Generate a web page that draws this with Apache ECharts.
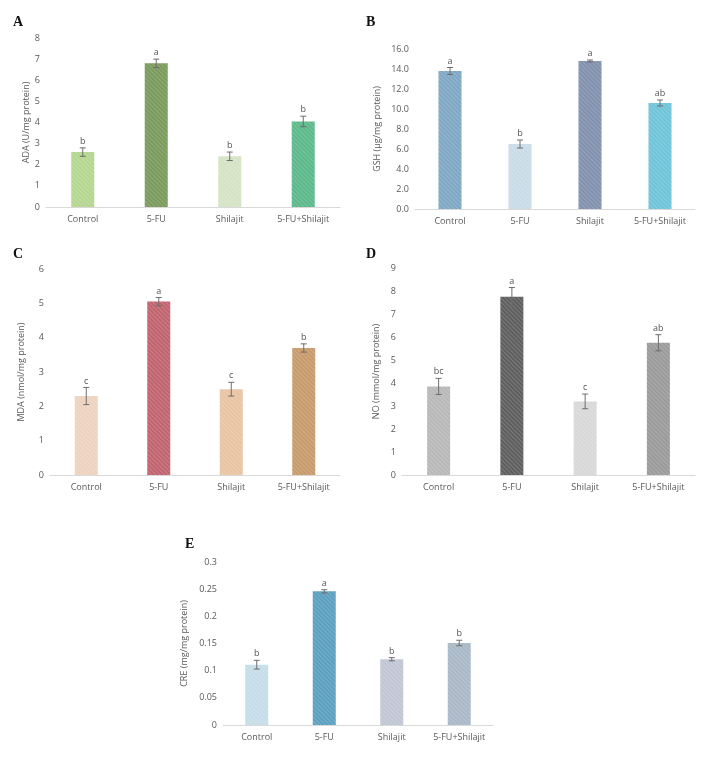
<!DOCTYPE html>
<html>
  <head>
    <meta charset="utf-8" />
    <title>ECharts</title>
    <script src="https://cdn.jsdelivr.net/npm/echarts@6.0.0/dist/echarts.min.js"></script>
    <style>
      body { margin: 0; background: #fff; }
    </style>
  </head>
  <body>
    <div id="main" style="width: 704px;height:759px;"></div>
    <script type="text/javascript">
      var categories = ['Control', '5-FU', 'Shilajit', '5-FU+Shilajit'];

      // A - ADA
      var adaValues = [2.6, 6.8, 2.4, 4.05];
      var adaErrors = [0.2, 0.2, 0.2, 0.25];
      var adaLetters = ['b', 'a', 'b', 'b'];
      var adaColors = ['#b5d68f', '#7a9a5c', '#d5e3c5', '#5bb889'];

      // B - GSH
      var gshValues = [13.8, 6.5, 14.8, 10.6];
      var gshErrors = [0.35, 0.4, 0.1, 0.3];
      var gshLetters = ['a', 'b', 'a', 'ab'];
      var gshColors = ['#7ea7c4', '#c9dbe6', '#8090ad', '#6ec4d8'];

      // C - MDA
      var mdaValues = [2.3, 5.05, 2.5, 3.7];
      var mdaErrors = [0.25, 0.12, 0.2, 0.12];
      var mdaLetters = ['c', 'a', 'c', 'b'];
      var mdaColors = ['#edd3bf', '#c0636e', '#e8c4a2', '#c79a6c'];

      // D - NO
      var noValues = [3.85, 7.75, 3.2, 5.75];
      var noErrors = [0.35, 0.4, 0.32, 0.35];
      var noLetters = ['bc', 'a', 'c', 'ab'];
      var noColors = ['#b8b8b8', '#5e5e5e', '#d8d8d8', '#9a9a9a'];

      // E - CRE
      var creValues = [0.111, 0.246, 0.121, 0.151];
      var creErrors = [0.008, 0.003, 0.003, 0.005];
      var creLetters = ['b', 'a', 'b', 'b'];
      var creColors = ['#c5dde9', '#5b9fc0', '#c0c6d4', '#a9b8c6'];

      var panelLetters = ['A', 'B', 'C', 'D', 'E'];

      var chartDom = document.getElementById('main');
      var myChart = echarts.init(chartDom);
      var font = 'Open Sans';

      var panels = [
        { name: 'ADA (U/mg protein)', v: adaValues, e: adaErrors, l: adaLetters, c: adaColors,
          grid: { left: 46, right: 364, top: 38, bottom: 552 }, max: 8, interval: 1, dec: 0, gap: 14 },
        { name: 'GSH (\u00b5g/mg protein)', v: gshValues, e: gshErrors, l: gshLetters, c: gshColors,
          grid: { left: 415, right: 9, top: 49, bottom: 550 }, max: 16, interval: 2, dec: 1, gap: 33 },
        { name: 'MDA (nmol/mg protein)', v: mdaValues, e: mdaErrors, l: mdaLetters, c: mdaColors,
          grid: { left: 50, right: 364, top: 269, bottom: 284 }, max: 6, interval: 1, dec: 0, gap: 24 },
        { name: 'NO (mmol/mg protein)', v: noValues, e: noErrors, l: noLetters, c: noColors,
          grid: { left: 402, right: 9, top: 268, bottom: 284 }, max: 9, interval: 1, dec: 0, gap: 21 },
        { name: 'CRE (mg/mg protein)', v: creValues, e: creErrors, l: creLetters, c: creColors,
          grid: { left: 223, right: 211, top: 562, bottom: 34 }, max: 0.3, interval: 0.05, dec: -1, gap: 34 }
      ];

      function makeErrorBar(letters) {
        return function (params, api) {
          var x = api.value(0);
          var v = api.value(1);
          var e = api.value(2);
          var top = api.coord([x, v + e]);
          var bot = api.coord([x, v - e]);
          var w = 3;
          var style = { stroke: '#6d6d6d', lineWidth: 1 };
          return {
            type: 'group',
            children: [
              { type: 'line', shape: { x1: top[0], y1: top[1], x2: bot[0], y2: bot[1] }, style: style },
              { type: 'line', shape: { x1: top[0] - w, y1: top[1], x2: top[0] + w, y2: top[1] }, style: style },
              { type: 'line', shape: { x1: bot[0] - w, y1: bot[1], x2: bot[0] + w, y2: bot[1] }, style: style },
              {
                type: 'text',
                x: top[0],
                y: top[1] - 2,
                style: {
                  text: letters[params.dataIndex],
                  fill: '#555',
                  font: '9px "' + font + '"',
                  align: 'center',
                  verticalAlign: 'bottom'
                }
              }
            ]
          };
        };
      }

      var grids = [], xAxes = [], yAxes = [], series = [], titles = [];
      var letterPos = [[8, 10], [361, 10], [8, 242], [361, 242], [180, 532]];

      panels.forEach(function (p, i) {
        grids.push(p.grid);
        xAxes.push({
          type: 'category',
          gridIndex: i,
          data: categories,
          axisLine: { lineStyle: { color: '#d9d9d9' } },
          axisTick: { show: false },
          axisLabel: { color: '#595959', fontSize: 9, fontFamily: font, margin: 8, interval: 0 }
        });
        yAxes.push({
          type: 'value',
          gridIndex: i,
          min: 0,
          max: p.max,
          interval: p.interval,
          name: p.name,
          nameLocation: 'middle',
          nameGap: p.gap,
          nameTextStyle: { color: '#595959', fontSize: 9, fontFamily: font },
          axisLine: { show: false },
          axisTick: { show: false },
          splitLine: { show: false },
          axisLabel: {
            color: '#595959', fontSize: 9, fontFamily: font, margin: 6,
            formatter: function (val) {
              if (p.dec > 0) return val.toFixed(p.dec);
              return String(Math.round(val * 100) / 100);
            }
          }
        });
        series.push({
          type: 'bar',
          xAxisIndex: i,
          yAxisIndex: i,
          barWidth: 23,
          data: p.v.map(function (val, k) {
            return {
              value: val,
              itemStyle: {
                color: p.c[k],
                decal: {
                  symbol: 'rect',
                  symbolSize: 1,
                  dashArrayX: [1, 0],
                  dashArrayY: [1, 2],
                  rotation: Math.PI / 4,
                  color: 'rgba(255,255,255,0.18)'
                }
              }
            };
          }),
          silent: true
        });
        series.push({
          type: 'custom',
          xAxisIndex: i,
          yAxisIndex: i,
          renderItem: makeErrorBar(p.l),
          encode: { x: 0, y: 1 },
          data: p.v.map(function (val, k) { return [k, val, p.e[k]]; }),
          z: 5
        });
        titles.push({
          text: panelLetters[i],
          left: letterPos[i][0],
          top: letterPos[i][1],
          textStyle: { fontFamily: 'Liberation Serif', fontWeight: 'bold', fontSize: 14, color: '#111' }
        });
      });

      var option = {
        animation: false,
        backgroundColor: '#fff',
        title: titles,
        grid: grids,
        xAxis: xAxes,
        yAxis: yAxes,
        series: series
      };
      myChart.setOption(option);
    </script>
  </body>
</html>
